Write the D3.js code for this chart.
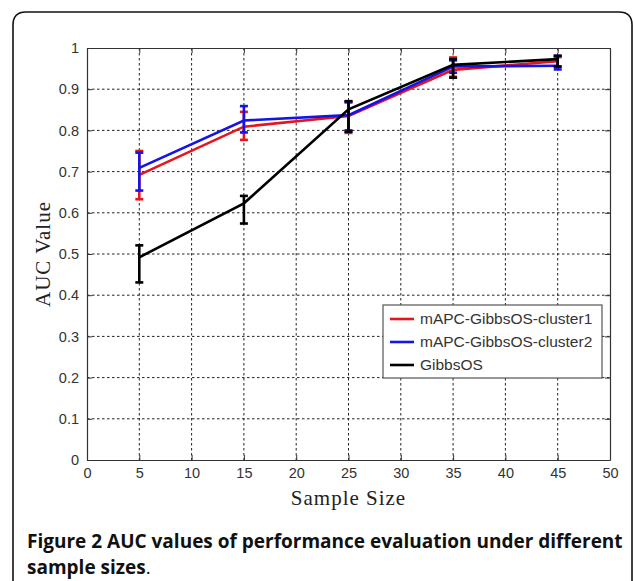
<!DOCTYPE html>
<html><head><meta charset="utf-8">
<script src="https://cdn.jsdelivr.net/npm/d3@7"></script>
<style>html,body{margin:0;padding:0;background:#fff;}svg{display:block;}</style>
</head><body>
<script>
const sampleSizes = [5, 15, 25, 35, 45];
const cluster1 = [0.692, 0.809, 0.835, 0.947, 0.968];
const cluster1Low = [0.633, 0.777, 0.794, 0.930, 0.955];
const cluster1High = [0.750, 0.845, 0.870, 0.977, 0.978];
const cluster2 = [0.709, 0.824, 0.837, 0.955, 0.957];
const cluster2Low = [0.654, 0.795, 0.800, 0.940, 0.948];
const cluster2High = [0.746, 0.859, 0.868, 0.970, 0.981];
const gibbs = [0.492, 0.623, 0.851, 0.959, 0.973];
const gibbsLow = [0.431, 0.574, 0.797, 0.928, 0.955];
const gibbsHigh = [0.521, 0.641, 0.871, 0.973, 0.981];
const seriesNames = ["mAPC-GibbsOS-cluster1", "mAPC-GibbsOS-cluster2", "GibbsOS"];
const seriesColors = ["#e8141c", "#1414e6", "#000000"];
const xTicks = [0,5,10,15,20,25,30,35,40,45,50];
const yTicks = [0,0.1,0.2,0.3,0.4,0.5,0.6,0.7,0.8,0.9,1];

const W = 633, H = 581;
const svg = d3.select("body").append("svg").attr("width", W).attr("height", H);

// frame
svg.append("path")
  .attr("d", "M13,581 V25 Q13,12 26,12 H619 Q632,12 632,25 V581")
  .attr("fill", "none").attr("stroke", "#111").attr("stroke-width", 1.6);

const L = 87, R = 610, T = 48, B = 460;
const x = d3.scaleLinear().domain([0, 50]).range([L, R]);
const y = d3.scaleLinear().domain([0, 1]).range([B, T]);

// grid
const grid = svg.append("g").attr("stroke", "#222").attr("stroke-width", 1).attr("stroke-dasharray", "2.5,2.5");
xTicks.slice(1, -1).forEach(t => grid.append("line").attr("x1", x(t)).attr("x2", x(t)).attr("y1", T).attr("y2", B));
yTicks.slice(1, -1).forEach(t => grid.append("line").attr("x1", L).attr("x2", R).attr("y1", y(t)).attr("y2", y(t)));

// axes
const fmt = d => d3.format("~g")(d);
const gx = svg.append("g").attr("transform", `translate(0,${B})`)
  .call(d3.axisBottom(x).tickValues(xTicks).tickFormat(fmt).tickSizeInner(-5).tickSizeOuter(0).tickPadding(8));
const gy = svg.append("g").attr("transform", `translate(${L},0)`)
  .call(d3.axisLeft(y).tickValues(yTicks).tickFormat(fmt).tickSizeInner(-5).tickSizeOuter(0).tickPadding(8));
const gxt = svg.append("g").attr("transform", `translate(0,${T})`)
  .call(d3.axisTop(x).tickValues(xTicks).tickFormat("").tickSizeInner(-5).tickSizeOuter(0));
const gyr = svg.append("g").attr("transform", `translate(${R},0)`)
  .call(d3.axisRight(y).tickValues(yTicks).tickFormat("").tickSizeInner(-5).tickSizeOuter(0));
[gx, gy, gxt, gyr].forEach(g => {
  g.selectAll(".domain").attr("stroke", "#333").attr("stroke-width", 1.2);
  g.selectAll(".tick line").attr("stroke", "#333");
  g.selectAll("text").attr("font-family", "Liberation Sans, Arial, sans-serif").attr("font-size", 14.5).attr("fill", "#333");
});

// axis titles
svg.append("text").attr("x", x(25)).attr("y", 505).attr("text-anchor", "middle")
  .attr("font-family", "Liberation Serif, serif").attr("font-size", 21).attr("fill", "#222")
  .attr("letter-spacing", 1).text("Sample Size");
svg.append("text").attr("transform", `translate(50,${(T + B) / 2}) rotate(-90)`).attr("text-anchor", "middle")
  .attr("font-family", "Liberation Serif, serif").attr("font-size", 21).attr("fill", "#222")
  .attr("letter-spacing", 1).text("AUC Value");

// series
const series = [
  {vals: cluster1, lo: cluster1Low, hi: cluster1High},
  {vals: cluster2, lo: cluster2Low, hi: cluster2High},
  {vals: gibbs, lo: gibbsLow, hi: gibbsHigh}
];
const line = d3.line().x(d => x(d[0])).y(d => y(d[1]));
series.forEach((s, i) => {
  const g = svg.append("g").attr("stroke", seriesColors[i]).attr("fill", "none").attr("stroke-width", 2.6);
  g.append("path").attr("d", line(sampleSizes.map((k, j) => [k, s.vals[j]])));
  sampleSizes.forEach((k, j) => {
    g.append("line").attr("x1", x(k)).attr("x2", x(k)).attr("y1", y(s.lo[j])).attr("y2", y(s.hi[j]));
    g.append("line").attr("x1", x(k) - 4).attr("x2", x(k) + 4).attr("y1", y(s.lo[j])).attr("y2", y(s.lo[j]));
    g.append("line").attr("x1", x(k) - 4).attr("x2", x(k) + 4).attr("y1", y(s.hi[j])).attr("y2", y(s.hi[j]));
  });
});

// legend
const lg = svg.append("g").attr("transform", "translate(383,305)");
lg.append("rect").attr("width", 219).attr("height", 73).attr("fill", "#fff").attr("stroke", "#555").attr("stroke-width", 1.2);
seriesNames.forEach((n, i) => {
  const yy = 14 + i * 23;
  lg.append("line").attr("x1", 7).attr("x2", 31).attr("y1", yy).attr("y2", yy)
    .attr("stroke", seriesColors[i]).attr("stroke-width", 2.6);
  lg.append("text").attr("x", 37).attr("y", yy + 5).attr("font-family", "Liberation Sans, Arial, sans-serif")
    .attr("font-size", 15.5).attr("fill", "#333").text(n);
});

// caption
const cap = svg.append("text").attr("font-family", "Open Sans, sans-serif").attr("font-size", 19).attr("fill", "#111").attr("font-weight", 700);
cap.append("tspan").attr("x", 27).attr("y", 548).text("Figure 2 ");
cap.append("tspan").text("AUC values of performance evaluation under different");
const cap2 = svg.append("text").attr("font-family", "Open Sans, sans-serif").attr("font-size", 19).attr("fill", "#111");
cap2.append("tspan").attr("x", 27).attr("y", 574).attr("font-weight", 700).text("sample sizes");
cap2.append("tspan").attr("font-weight", 400).text(".");
</script>
</body></html>
